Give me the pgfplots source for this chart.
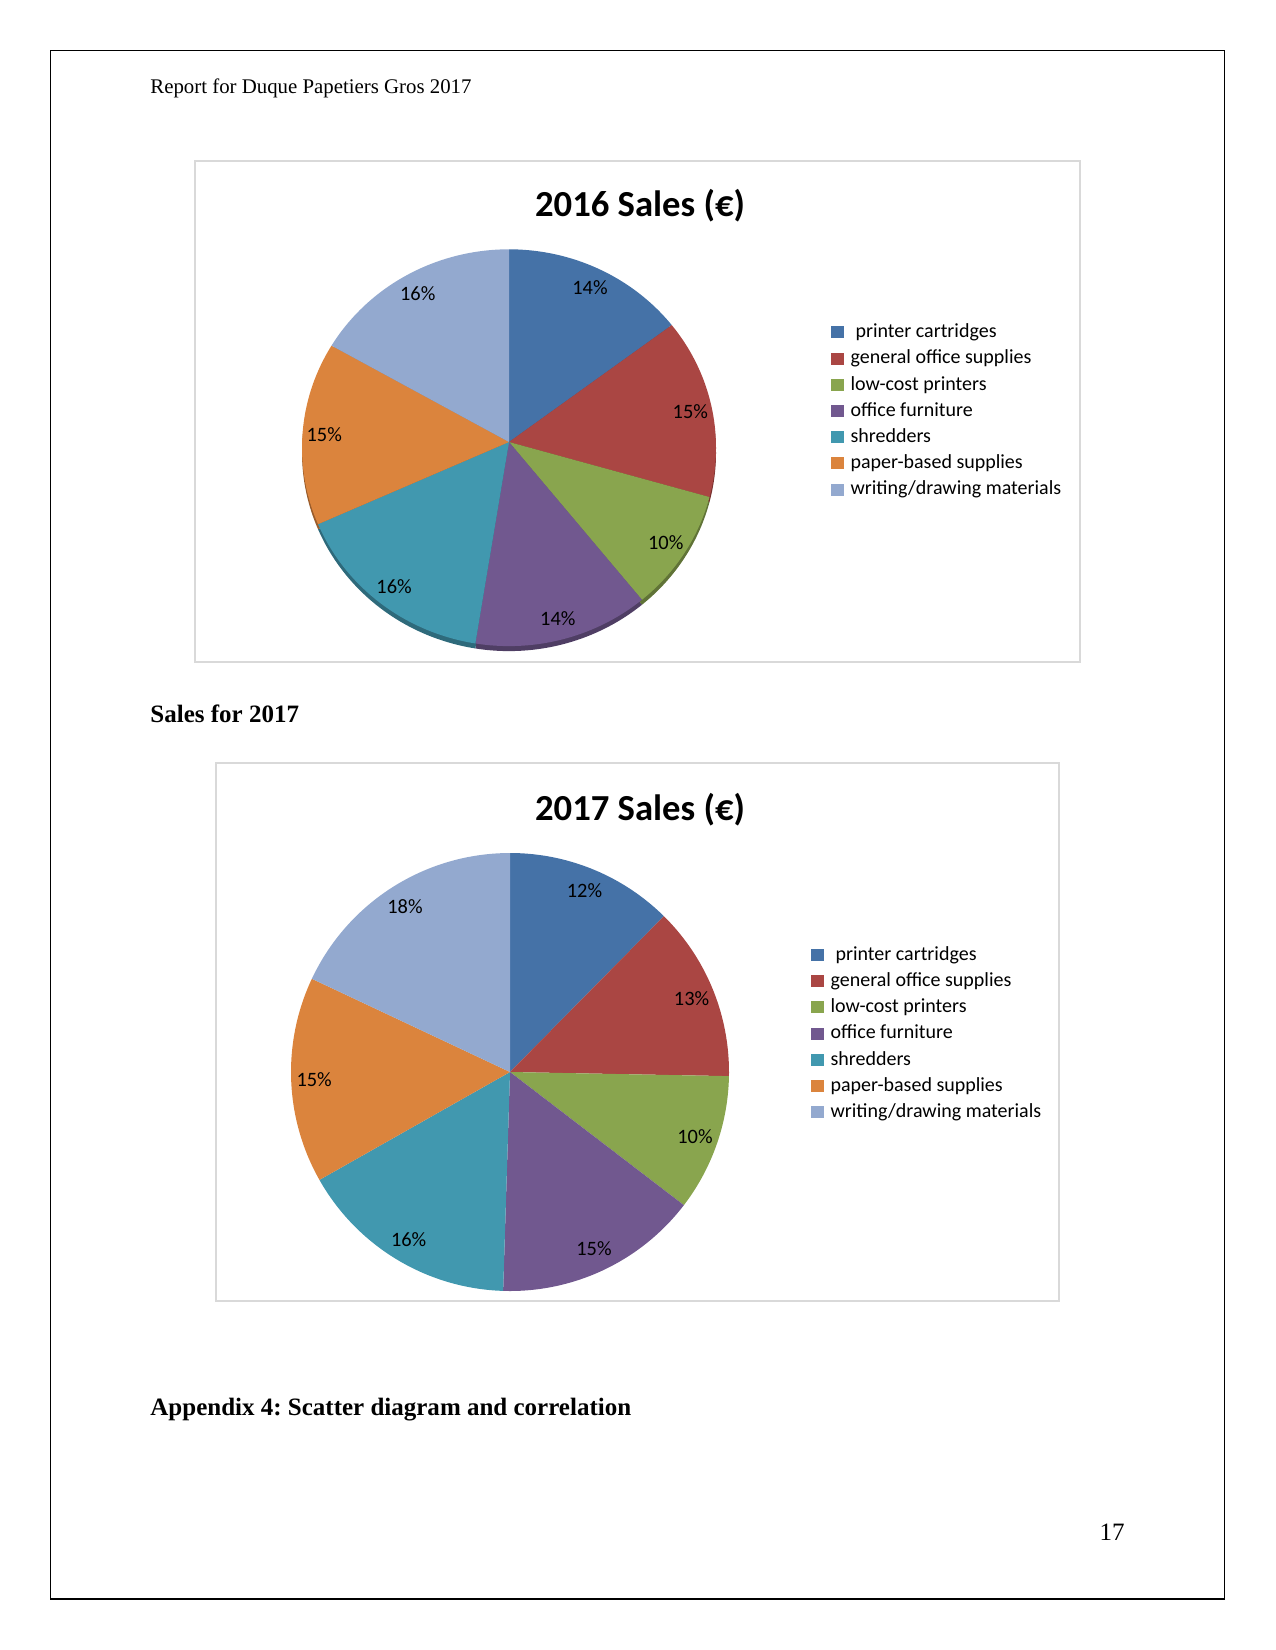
\documentclass[border=0pt]{standalone}
\usepackage{fontspec}
\setmainfont{Liberation Serif}
\newfontfamily\carlito{Carlito}
\usepackage{pgfplots}
\usepackage{pgfplotstable}
\pgfplotsset{compat=1.18}
\frenchspacing

\definecolor{pie0}{HTML}{4572A7}
\definecolor{pie1}{HTML}{AA4643}
\definecolor{pie2}{HTML}{89A54E}
\definecolor{pie3}{HTML}{71588F}
\definecolor{pie4}{HTML}{4198AF}
\definecolor{pie5}{HTML}{DB843D}
\definecolor{pie6}{HTML}{93A9CF}
\definecolor{framegray}{HTML}{D9D9D9}

% shares in percent
\pgfplotstableread{
cat share
0 14.4
1 14.6
2 9.9
3 13.7
4 16.1
5 14.9
6 16.4
}\salesA
\pgfplotstableread{
cat share
0 12.4
1 12.9
2 10.1
3 15.1
4 16.3
5 15.2
6 18.0
}\salesB

\newcommand\labfont{\carlito\fontsize{9.8}{11}\selectfont}
\newcommand\legfont{\carlito\fontsize{9.6}{11}\selectfont}

% #1 table, #2 rx, #3 ry, #4 shadow depth (0 = none), #5 rim centre offset below apex
\newcommand\drawpie[5]{%
  \def\cum{0}%
  \ifdim #4pt>0pt
  \pgfplotsforeachungrouped \i in {0,1,2,3,4,5,6}{%
    \pgfplotstablegetelem{\i}{share}\of#1%
    \let\v\pgfplotsretval
    \pgfmathsetmacro\a{3.6*\cum}%
    \pgfmathsetmacro\cum{\cum+\v}%
    \pgfmathsetmacro\b{3.6*\cum}%
    \edef\temp{%
      \noexpand\addplot[forget plot, draw=none, fill=pie\i!70!black, domain=\a:\b, samples=60]
        ({#2*sin(x)},{#3*cos(x)-#5-#4}) -- (axis cs:0,-#4) -- cycle;
    }\temp
  }%
  \fi
  \def\cum{0}%
  \pgfplotsforeachungrouped \i in {0,1,2,3,4,5,6}{%
    \pgfplotstablegetelem{\i}{share}\of#1%
    \let\v\pgfplotsretval
    \pgfmathsetmacro\a{3.6*\cum}%
    \pgfmathsetmacro\cum{\cum+\v}%
    \pgfmathsetmacro\b{3.6*\cum}%
    \pgfmathsetmacro\m{(\a+\b)/2}%
    \pgfmathsetmacro\lx{0.895*#2*sin(\m)}%
    \pgfmathsetmacro\ly{0.895*#3*cos(\m)-#5}%
    \pgfmathtruncatemacro\lab{round(\v)}%
    \edef\temp{%
      \noexpand\addplot[draw=none, fill=pie\i, domain=\a:\b, samples=60]
        ({#2*sin(x)},{#3*cos(x)-#5}) -- (axis cs:0,0) -- cycle;
      \noexpand\node[font=\noexpand\labfont, inner sep=0pt] at (axis cs:\lx,\ly) {\lab\noexpand\%};
    }\temp
  }%
}

\pgfplotsset{
  piestyle/.style={
    anchor=origin, x=0.48pt, y=0.48pt, hide axis, clip=false,
    xmin=-230, xmax=230, ymin=-230, ymax=230,
    legend cell align=left,
    legend image code/.code={\path[##1] (0pt,-2.9pt) rectangle (5.8pt,2.9pt);},
    legend entries={{\hspace*{2.4pt}printer cartridges},general office supplies,low-cost printers,office furniture,shredders,paper-based supplies,writing/drawing materials},
  },
  legstyle/.style={legend style={draw=none, fill=none, inner sep=0pt, font=\legfont,
    row sep=3.58pt, column sep=3.4pt, nodes={inner sep=0pt, text height=7pt, text depth=2pt}}},
}

\begin{document}
\begin{tikzpicture}
\begin{scope}[x=0.48pt,y=-0.48pt]
  \path (0,0) rectangle (1275,1650);
  \draw[line width=0.75pt] (50.5,50.5) rectangle (1224.5,1599);
  \draw[framegray, line width=1pt] (194.6,161) rectangle (1080.4,661.7);
  \draw[framegray, line width=1pt] (215.7,762.8) rectangle (1059.4,1301.4);
  \node[anchor=base west, inner sep=0pt, font=\fontsize{10}{12}\selectfont] at (150,94) {Report for Duque Papetiers Gros 2017};
  \node[anchor=base west, inner sep=0pt, font=\bfseries\fontsize{12}{14}\selectfont] at (150,722) {Sales for 2017};
  \node[anchor=base west, inner sep=0pt, font=\bfseries\fontsize{12}{14}\selectfont] at (150,1415) {Appendix 4: Scatter diagram and correlation};
  \node[anchor=base east, inner sep=0pt, font=\fontsize{12}{14}\selectfont] at (1125,1540) {17};
  \node[anchor=base, inner sep=0pt, font=\carlito\bfseries\fontsize{17.6}{20}\selectfont] at (640,217) {2016 Sales (€)};
  \node[anchor=base, inner sep=0pt, font=\carlito\bfseries\fontsize{17.6}{20}\selectfont] at (640,820) {2017 Sales (€)};
  \coordinate (c1) at (509,442);
  \coordinate (c2) at (510,1072);
\end{scope}

\begin{axis}[piestyle, legstyle, at={(c1)},
  legend style={at={(axis cs:322,119.4)}, anchor=north west}]
  \drawpie{\salesA}{207}{198.4}{5}{5.7}
\end{axis}

\begin{axis}[piestyle, legstyle, at={(c2)},
  legend style={at={(axis cs:301,126.8)}, anchor=north west}]
  \drawpie{\salesB}{219}{219}{0}{0}
\end{axis}
\end{tikzpicture}
\end{document}
